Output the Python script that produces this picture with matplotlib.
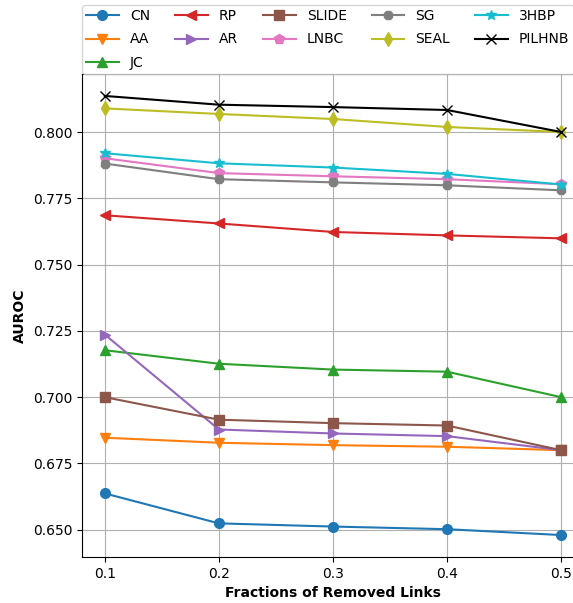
import matplotlib
matplotlib.use("Agg")
import matplotlib.pyplot as plt

# fraction of links removed from the graph
fractions = [0.1, 0.2, 0.3, 0.4, 0.5]

methods = ["CN", "AA", "JC", "RP", "AR", "SLIDE", "LNBC", "SG", "SEAL", "3HBP", "PILHNB"]
markers = ["o", "v", "^", "<", ">", "s", "p", "8", "d", "*", "x"]
colors = ["tab:blue", "tab:orange", "tab:green", "tab:red", "tab:purple", "tab:brown",
          "tab:pink", "tab:gray", "tab:olive", "tab:cyan", "black"]

# AUROC per method
cn = [0.6637, 0.6524, 0.6512, 0.6502, 0.6480]
aa = [0.6847, 0.6828, 0.6819, 0.6813, 0.6800]
jc = [0.7177, 0.7126, 0.7104, 0.7096, 0.7000]
rp = [0.7686, 0.7655, 0.7623, 0.7610, 0.7599]
ar = [0.7236, 0.6878, 0.6863, 0.6853, 0.6800]
slide = [0.7000, 0.6915, 0.6902, 0.6893, 0.6800]
lnbc = [0.7901, 0.7845, 0.7833, 0.7822, 0.7803]
sg = [0.7881, 0.7822, 0.7810, 0.7799, 0.7780]
seal = [0.8089, 0.8068, 0.8049, 0.8019, 0.8000]
hbp3 = [0.7920, 0.7882, 0.7866, 0.7842, 0.7802]
pilhnb = [0.8136, 0.8103, 0.8094, 0.8083, 0.8000]

scores = [cn, aa, jc, rp, ar, slide, lnbc, sg, seal, hbp3, pilhnb]

fig = plt.figure(figsize=(5.73, 6.03), dpi=100)
ax = fig.add_axes([0.1431, 0.0763, 0.876, 0.801])

for name, vals, mk, c in zip(methods, scores, markers, colors):
    ax.plot(fractions, vals, marker=mk, color=c, label=name, markersize=7)

ax.set_xticks(fractions)
ax.grid(True)
ax.set_xlabel("Fractions of Removed Links", fontweight="bold")
ax.set_ylabel("AUROC", fontweight="bold")
ax.yaxis.set_major_formatter(matplotlib.ticker.FormatStrFormatter("%.3f"))

# legend sits on top of the axes, wider than the figure on the right
ax.legend(loc="lower left", bbox_to_anchor=(0, 1), borderaxespad=0, ncol=5, fontsize=10,
          handlelength=2.35, columnspacing=1.8, labelspacing=0.68, borderpad=0.3)

fig.savefig("out.png", dpi=100)
